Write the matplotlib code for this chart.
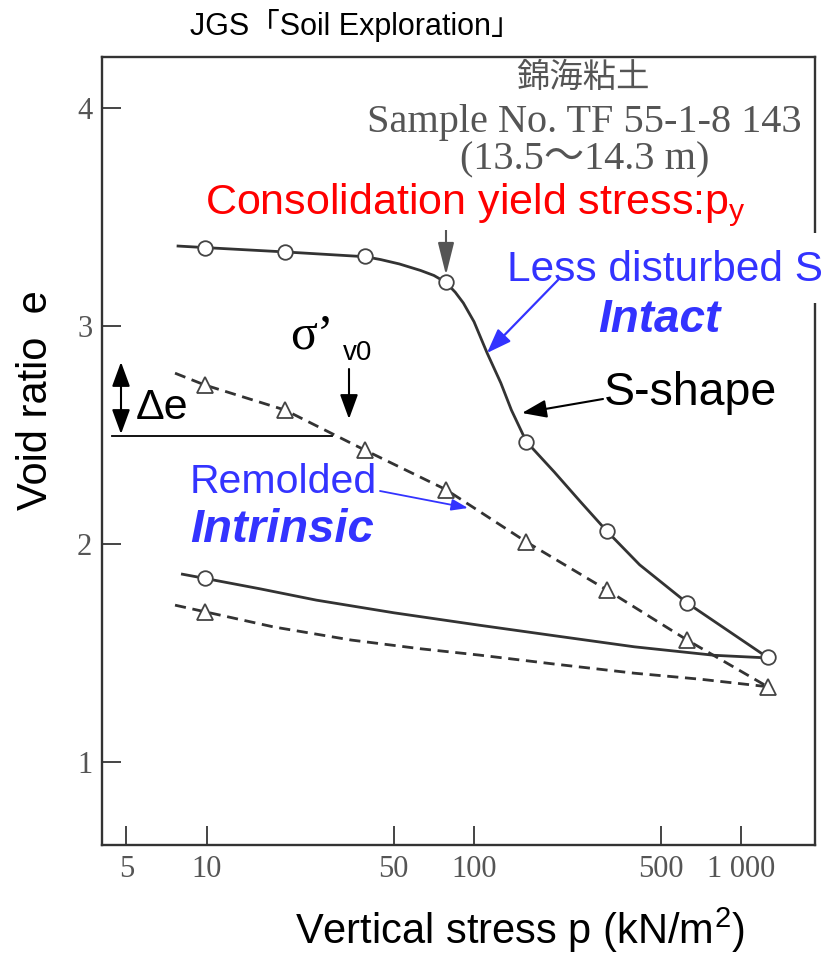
import matplotlib
matplotlib.use('Agg')
import matplotlib.pyplot as plt
from matplotlib.patches import Rectangle, FancyArrowPatch
from matplotlib.ticker import NullLocator

plt.rcParams['font.family'] = ['Liberation Sans', 'Noto Sans CJK JP', 'DejaVu Sans']
plt.rcParams['mathtext.fontset'] = 'custom'
plt.rcParams['mathtext.rm'] = 'Liberation Sans'
plt.rcParams['mathtext.it'] = 'Liberation Sans:italic'
plt.rcParams['mathtext.default'] = 'regular'

# ---------------- data ----------------
# loading steps (kN/m2)
load_p = [9.81, 19.6, 39.2, 78.5, 157, 314, 628, 1256]
# intact (less disturbed) sample: circles
intact_e = [3.36, 3.34, 3.32, 3.20, 2.47, 2.06, 1.73, 1.48]
# remolded sample: triangles
remold_e = [2.73, 2.615, 2.43, 2.25, 2.01, 1.79, 1.56, 1.346]
# unloading end points (at p ~ 10)
unload_p = [9.81]
intact_unload_e = [1.843]
remold_unload_e = [1.69]

# traced curve vertices (line paths)
intact_line_p = [7.8, 9.81, 19.6, 39.2, 44.7, 52.5, 63.1, 70.8, 78.5, 85.1, 91.2, 100, 112, 126,
                 138, 157, 200, 250, 314, 417, 628, 1256]
intact_line_e = [3.367, 3.36, 3.34, 3.318, 3.305, 3.285, 3.255, 3.232, 3.20, 3.155, 3.106, 3.02,
                 2.876, 2.739, 2.615, 2.47, 2.33, 2.195, 2.06, 1.905, 1.73, 1.48]
remold_line_p = [7.6, 9.81, 19.6, 39.2, 78.5, 157, 314, 628, 1256]
remold_line_e = [2.784, 2.73, 2.615, 2.43, 2.25, 2.01, 1.79, 1.56, 1.346]
intact_unl_p = [8.1, 9.81, 15.8, 25.7, 50.1, 104.7, 199.5, 398, 794, 1256]
intact_unl_e = [1.862, 1.843, 1.795, 1.743, 1.685, 1.628, 1.58, 1.529, 1.49, 1.478]
remold_unl_p = [7.6, 9.81, 17.8, 34.7, 63.1, 104.7, 199.5, 398, 708, 1256]
remold_unl_e = [1.72, 1.69, 1.62, 1.56, 1.52, 1.491, 1.45, 1.408, 1.38, 1.346]

x_ticks = [5, 10, 50, 100, 500, 1000]
x_ticklabels = ['5', '10', '50', '100', '500', '1 000']
y_ticks = [1, 2, 3, 4]
y_ticklabels = ['1', '2', '3', '4']

# ---------------- figure ----------------
W, H = 822, 955
fig = plt.figure(figsize=(W / 100, H / 100), dpi=100)
ax = fig.add_axes([102 / W, 1 - 845 / H, (815 - 102) / W, (845 - 57) / H])
ax.set_xscale('log')
ax.set_xlim(4.05, 1890)
ax.set_ylim(0.62, 4.234)

LC = '#333333'
ax.plot(intact_line_p, intact_line_e, '-', color=LC, lw=2.0, zorder=2, solid_joinstyle='round')
ax.plot(intact_unl_p, intact_unl_e, '-', color=LC, lw=2.0, zorder=2, solid_joinstyle='round')
ax.plot(remold_line_p, remold_line_e, color=LC, lw=2.0, ls=(0, (4, 2.4)), zorder=2)
ax.plot(remold_unl_p, remold_unl_e, color=LC, lw=2.0, ls=(0, (4, 2.4)), zorder=2)

mk = dict(ls='none', mfc='white', mec='#444444', mew=1.3, zorder=3)
ax.plot(load_p, intact_e, marker='o', ms=10.5, **mk)
ax.plot(unload_p, intact_unload_e, marker='o', ms=10.5, **mk)
ax.plot(load_p, remold_e, marker='^', ms=11, **mk)
ax.plot(unload_p, remold_unload_e, marker='^', ms=11, **mk)

ax.set_xticks(x_ticks)
ax.set_xticklabels(x_ticklabels, fontfamily='Liberation Serif')
ax.xaxis.set_minor_locator(NullLocator())
ax.set_yticks(y_ticks)
ax.set_yticklabels(y_ticklabels, fontfamily='Liberation Serif')
ax.tick_params(direction='in', length=14, width=1.4, color='#444444',
               labelsize=22, labelcolor='#555555', pad=7)
for s in ax.spines.values():
    s.set_color('#333333')
    s.set_linewidth(1.7)


def P(x, y):
    return (x / W, 1 - y / H)


def txt(x, y, s, ha='left', va='center', **kw):
    fig.text(x / W, 1 - y / H, s, ha=ha, va=va, zorder=7, **kw)


def arrow(x0, y0, x1, y1, color, lw=1.5, style='-|>,head_length=1.1,head_width=0.45', ms=10, z=6):
    fig.add_artist(FancyArrowPatch(P(x0, y0), P(x1, y1), transform=fig.transFigure,
                                   arrowstyle=style, mutation_scale=ms, color=color,
                                   lw=lw, shrinkA=0, shrinkB=0, zorder=z))


BLUE = '#3333FF'

# labels
txt(190, 25, 'JGS「Soil Exploration」', size=22)
txt(36, 400, 'Void ratio  e', ha='center', rotation=90, size=30)
txt(520, 930, 'Vertical stress p (kN/m$^{2}$)', ha='center', size=30)

# scanned-figure caption
txt(583, 77, '錦海粘土', ha='center', size=24, color='#555555', family=['Noto Sans CJK JP'])
txt(584, 122, 'Sample No. TF 55-1-8 143', ha='center', size=29, color='#555555',
    family=['Liberation Serif'])
txt(585, 160, '(13.5～14.3 m)', ha='center', size=29, color='#555555',
    family=['Liberation Serif', 'Noto Sans CJK JP'])

# white boxes
fig.add_artist(Rectangle(P(200, 230), (805 - 200) / W, (230 - 173) / H, transform=fig.transFigure,
                         facecolor='white', edgecolor='none', zorder=5))
fig.add_artist(Rectangle(P(490, 303), (W - 490) / W, (303 - 233) / H, transform=fig.transFigure,
                         facecolor='white', edgecolor='none', zorder=5))

txt(205, 205, 'Consolidation yield stress:p$_{y}$', size=31, color='#FF0000')
txt(507, 270, 'Less disturbed S', size=30.5, color=BLUE)
txt(598, 320, 'Intact', size=33, color=BLUE, weight='bold', style='italic')
txt(604, 393, 'S-shape', size=33.5, color='black')
txt(290, 336, 'σ’', size=36, color='black', family=['Liberation Serif'])
txt(343, 353, 'v0', size=20, color='black')
txt(136, 408, 'Δe', size=31, color='black')
txt(190, 482, 'Remolded', size=29.5, color=BLUE)
txt(190, 530, 'Intrinsic', size=34, color=BLUE, weight='bold', style='italic')

# arrows
arrow(446, 230, 446, 275, '#555555', lw=1.5, style='-|>,head_length=2.0,head_width=0.5', ms=10, z=4)
arrow(349, 369, 349, 419, 'black', lw=1.5, style='-|>,head_length=1.5,head_width=0.55')
arrow(121, 362, 121, 434, 'black', lw=1.5, style='<|-|>,head_length=1.5,head_width=0.55')
fig.add_artist(plt.Line2D([112 / W, 332 / W], [1 - 436 / H, 1 - 436 / H], color='black', lw=1.3,
                          transform=fig.transFigure, zorder=6))
arrow(558, 280, 487, 353, BLUE, lw=1.6, style='-|>,head_length=1.5,head_width=0.55')
arrow(603, 399, 522, 413, 'black', lw=1.5, style='-|>,head_length=1.5,head_width=0.55')
arrow(380, 491, 468, 508, BLUE, lw=1.3, style='-|>,head_length=1.0,head_width=0.35')

fig.savefig('out.png', dpi=100)
